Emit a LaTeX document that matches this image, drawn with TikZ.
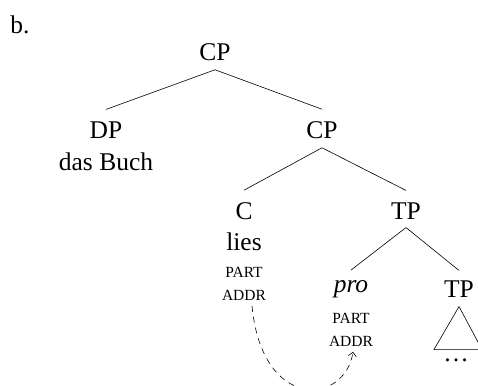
\documentclass[tikz,border=0pt]{standalone}
\usepackage{fontspec}
\setmainfont{Liberation Serif}
\usetikzlibrary{arrows.meta}
\usetikzlibrary{positioning}

\tikzset{
    cat/.style={inner sep=0pt, font=\fontsize{25.5}{28}\selectfont},
    feat/.style={inner sep=0pt, align=center, font=\fontsize{15.5}{23}\selectfont},
    branch/.style={line width=0.6pt}
}

\begin{document}
\begin{tikzpicture}[x=1pt, y=-1pt]
            \useasboundingbox (0,0) rectangle (478,385);

            % Label
            \node[cat] (lbl) at (20,25) {b.};

            % Tree nodes
            \node[cat] (cp) at (215,52) {CP};
            \node[cat] (dp) at (106,130) {DP};
            \node[cat] (dpw) at (106,162) {das Buch};
            \node[cat] (cpb) at (322,130) {CP};
            \node[cat] (c) at (244,211) {C};
            \node[cat] (cw) at (244,242) {lies};
            \node[feat] (cf) at (244,284) {PART\\ADDR};
            \node[cat] (tp) at (406,211) {TP};
            \node[cat] (pro) at (351,289) {\itshape pro};
            \node[feat] (pf) at (351,330) {PART\\ADDR};
            \node[cat] (tpb) at (459,289) {TP};

            % Branches
            \draw[branch] ([yshift=-9pt]cp.south) -- ([yshift=12pt]dp.north);
            \draw[branch] ([yshift=-9pt]cp.south) -- ([yshift=12pt]cpb.north);
            \draw[branch] ([yshift=-9pt]cpb.south) -- ([yshift=12pt]c.north);
            \draw[branch] ([yshift=-9pt]cpb.south) -- ([yshift=12pt]tp.north);
            \draw[branch] ([yshift=-8pt]tp.south) -- ([yshift=10pt]pro.north);
            \draw[branch] ([yshift=-8pt]tp.south) -- ([yshift=10pt]tpb.north);

            % Triangle
            \coordinate (apex) at ([yshift=-9pt]tpb.south);
            \draw[branch] (apex) -- ++(-25,43) -- ++(48,0) -- cycle;
            \node[cat] (dots) at (456,360) {\dots};

            % Agreement arrow
            \draw[dash pattern=on 6pt off 5pt, -{Straight Barb[length=4pt]}, line width=0.6pt]
                ([yshift=-5pt, xshift=8pt]cf.south) .. controls (262,412) and (345,405) .. ([yshift=-5pt, xshift=2pt]pf.south);

        \end{tikzpicture}
\end{document}
